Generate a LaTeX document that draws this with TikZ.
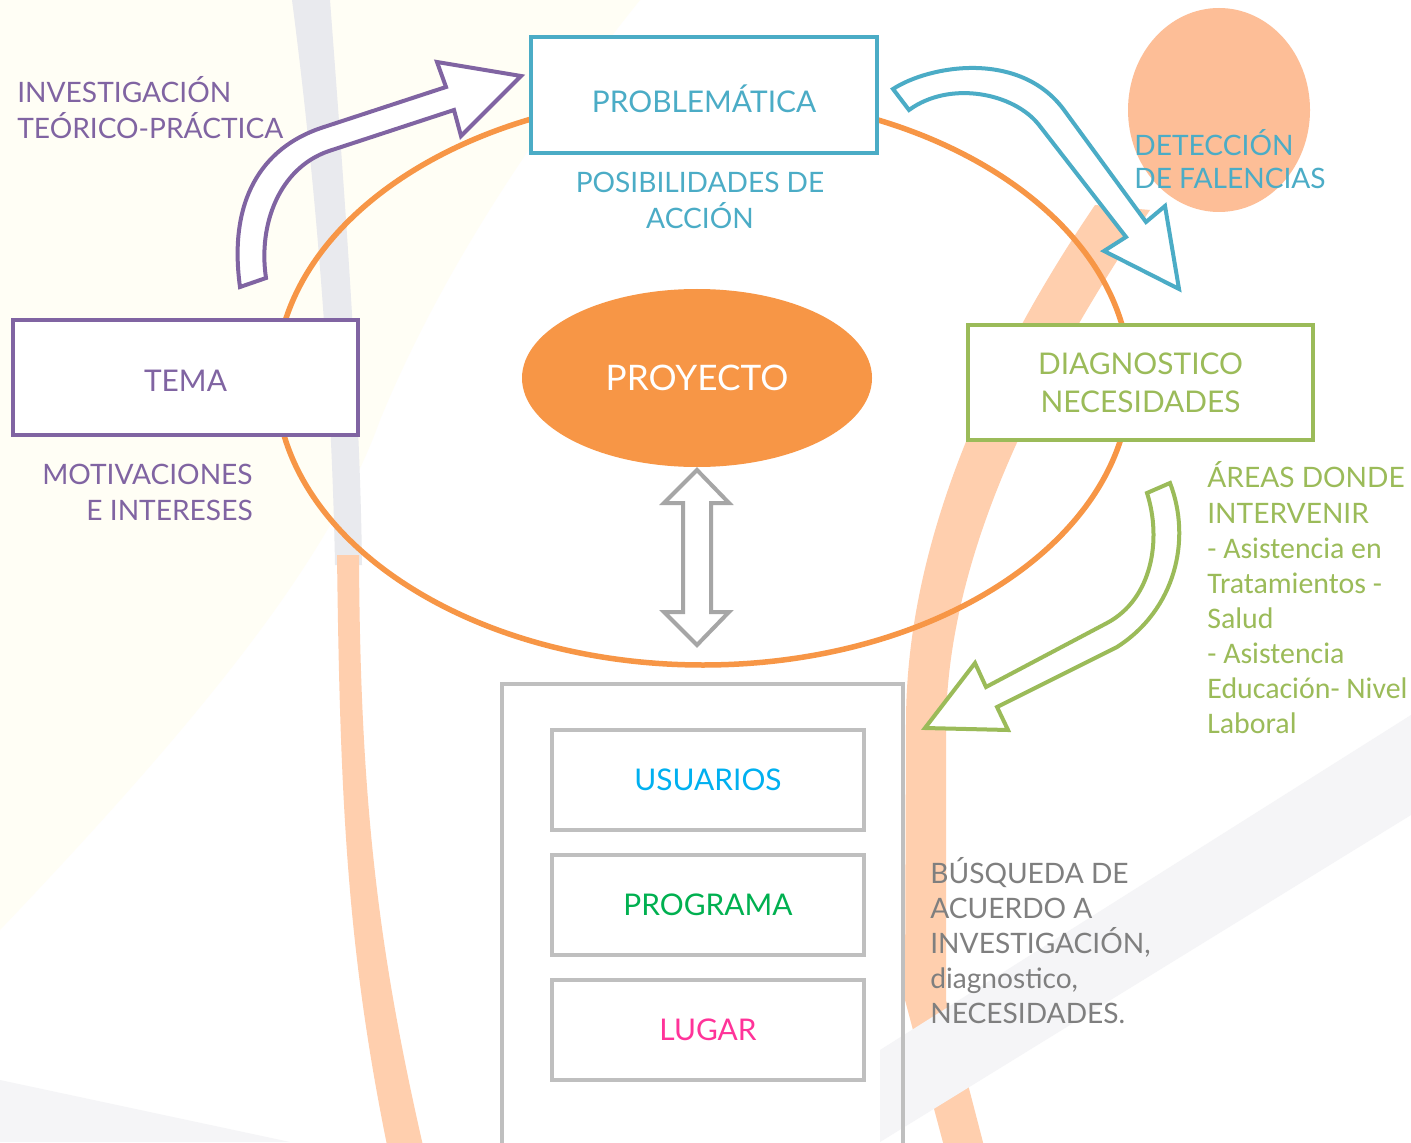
\documentclass[tikz,border=0pt]{standalone}
\usepackage{fontspec}
\setmainfont{Lato}
\newfontfamily\calibfont{Carlito}
\usetikzlibrary{positioning,shapes.geometric}

\definecolor{violeta}{HTML}{8064A2}
\definecolor{celeste}{HTML}{4BACC6}
\definecolor{verde}{HTML}{9BBB59}
\definecolor{naranja}{HTML}{F79646}
\definecolor{gris}{HTML}{BFBFBF}
\definecolor{grisflecha}{HTML}{A6A6A6}
\definecolor{gristexto}{HTML}{7F7F7F}
\definecolor{azulusu}{HTML}{00B0F0}
\definecolor{verdeprog}{HTML}{00B050}
\definecolor{rosalug}{HTML}{FF3399}
\definecolor{durazno}{HTML}{FFCFAE}
\definecolor{mancha}{HTML}{FDBE97}
\definecolor{banda}{HTML}{E9EAEE}
\definecolor{bandaclara}{HTML}{F5F5F7}
\definecolor{crema}{HTML}{FFFEF5}

\begin{document}
\begin{tikzpicture}
  [x=0.2mm, y=-0.2mm,
    box/.style={%
      rectangle, draw, line width=0.8mm, fill=white,
      minimum width=69mm, minimum height=23mm, inner sep=0pt,
      font=\fontsize{17}{21.5}\selectfont, align=center
    },
    subbox/.style={%
      rectangle, draw=gris, line width=0.8mm, outer sep=0pt,
      minimum width=62.4mm, minimum height=20mm, inner sep=0pt,
      font=\fontsize{17}{20}\selectfont
    },
    note/.style={%
      inner sep=0pt, font=\fontsize{16}{20.5}\selectfont
    },
    bigarrow/.style={%
      line width=0.8mm, fill=white, line join=miter
    },
  ]

  % fondo
  \useasboundingbox[fill=white] (0,0) rectangle (1411,1142);
  \fill[crema] (0,0) -- (640,0) .. controls (560,100) and (450,250) .. (380,420)
    .. controls (330,560) and (200,720) .. (0,930) -- cycle;
  \fill[banda] (292,0) -- (330,0) .. controls (345,200) and (360,400) .. (362,565)
    -- (335,565) .. controls (332,400) and (318,200) .. (292,0) -- cycle;
  \fill[durazno] (337,555) .. controls (340,800) and (347,950) .. (388,1150)
    -- (424,1150) .. controls (378,950) and (360,800) .. (359,555) -- cycle;
  \fill[durazno] (1095,205) .. controls (1010,330) and (907,520) .. (906,720)
    -- (905,1000) -- (945,1150) -- (985,1150) -- (946,1000) -- (946,720)
    .. controls (950,540) and (1050,360) .. (1150,210) -- cycle;
  \fill[mancha] (1219,110) ellipse [x radius=91, y radius=102];
  \fill[bandaclara] (1411,715) -- (1411,815) -- (880,1142) -- (880,1050) -- cycle;
  \fill[bandaclara] (0,1080) -- (290,1142) -- (0,1142) -- cycle;

  % ciclo
  \draw[naranja, line width=1.1mm] (703,380) ellipse [x radius=427, y radius=285];

  % flechas
  \draw[bigarrow, draw=violeta] (240,287) .. controls (228,200) and (262,148) .. (321,128)
    -- (446,87) -- (437,62) -- (521,76) -- (461,136) -- (454,110) -- (329,151)
    .. controls (279,168) and (258,225) .. (266,278) -- cycle;
  \draw[bigarrow, draw=celeste] (893,89) .. controls (930,65) and (1020,50) .. (1064,110)
    -- (1146,222) -- (1165,206) -- (1179,289) -- (1104,251) -- (1126,237) -- (1039,125)
    .. controls (1014,93) and (950,80) .. (909,110) -- cycle;
  \draw[bigarrow, draw=verde] (1170,483) .. controls (1192,540) and (1175,610) .. (1117,647)
    -- (997,707) -- (1008,730) -- (925,728) -- (975,663) -- (986,687) -- (1107,623)
    .. controls (1152,599) and (1162,540) .. (1147,493) -- cycle;

  % nodos
  \node[box, draw=celeste, text=celeste, minimum width=69.2mm, minimum height=23.2mm,
    text height=7mm, text depth=0pt] (prob) at (704,95) {PROBLEMÁTICA};
  \node[box, draw=violeta, text=violeta, text height=5.4mm, text depth=0pt]
    (tema) at (185.5,377.5) {TEMA};
  \node[box, draw=verde, text=verde] (diag) at (1140.5,382.5) {DIAGNOSTICO\\NECESIDADES};
  \node[ellipse, fill=naranja, text=white, minimum width=70mm, minimum height=35.6mm,
    inner sep=0pt, font=\fontsize{20}{24}\selectfont] (proy) at (697,378) {PROYECTO};

  \coordinate (eje) at (697,557);
  \draw[bigarrow, draw=grisflecha] (eje) ++(0,-87) -- ++(32,33) -- ++(-18,0) -- ++(0,109)
    -- ++(18,0) -- ++(-32,33) -- ++(-33,-33) -- ++(19,0) -- ++(0,-109) -- ++(-19,0) -- cycle;

  \node[rectangle, draw=gris, line width=0.8mm, minimum width=80.2mm, minimum height=95.2mm]
    (grupo) at (702.5,922) {};
  \node[subbox, text=azulusu] (usu) at (708,780) {USUARIOS};
  \node[subbox, text=verdeprog] (prog) [below=5mm of usu] {PROGRAMA};
  \node[subbox, text=rosalug] (lug) [below=5mm of prog] {LUGAR};

  % textos
  \node[note, text=violeta, align=left, anchor=west] (inv) at (17,108)
    {INVESTIGACIÓN\\TEÓRICO-PRÁCTICA};
  \node[note, text=violeta, align=right, anchor=east] (motiv) at (253,492)
    {MOTIVACIONES\\E INTERESES};
  \node[note, text=celeste, align=center] (posib) at (700,200)
    {POSIBILIDADES DE\\ACCIÓN};
  \node[note, text=celeste, align=left, anchor=west,
    font=\fontsize{16}{18.8}\selectfont] (detec) at (1134,159)
    {DETECCIÓN\\DE FALENCIAS};
  \node[note, text=verde, align=left, anchor=west] (areas) at (1207,492)
    {ÁREAS DONDE\\INTERVENIR};
  \node[note, text=verde, align=left, anchor=north west,
    font=\calibfont\fontsize{17}{19.9}\selectfont] (asist) at (1207,538)
    {- Asistencia en\\Tratamientos -\\Salud\\- Asistencia\\Educación- Nivel\\Laboral};
  \node[note, text=gristexto, align=left, anchor=west,
    font=\fontsize{16}{19.9}\selectfont] (busq) at (930,941)
    {BÚSQUEDA DE\\ACUERDO A\\INVESTIGACIÓN,\\diagnostico,\\NECESIDADES.};

\end{tikzpicture}
\end{document}
